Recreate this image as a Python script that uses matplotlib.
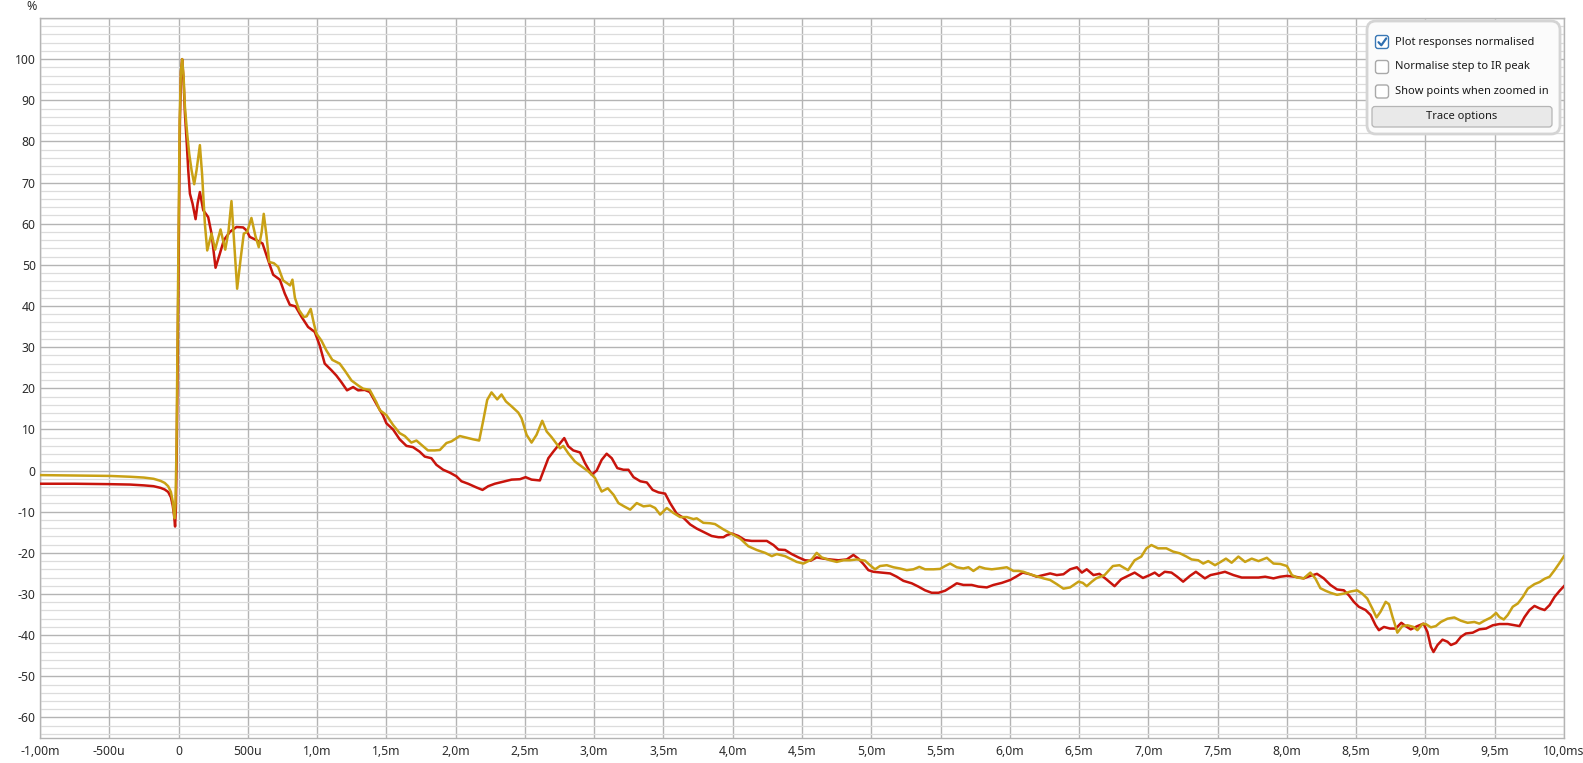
import matplotlib
matplotlib.use("Agg")
import matplotlib.pyplot as plt
from matplotlib.patches import FancyBboxPatch
import numpy as np

plt.rcParams['font.family'] = ['Noto Sans', 'DejaVu Sans']

# ---------------- data ----------------
t_red = [-1.0, -0.75, -0.5, -0.35, -0.25, -0.18, -0.13, -0.1, -0.075, -0.055, -0.042, -0.032, -0.025, -0.019,
         -0.013, -0.006, 0.002, 0.01, 0.018, 0.026, 0.036, 0.046, 0.058, 0.07, 0.082, 0.101, 0.123, 0.138, 0.154,
         0.178, 0.214, 0.238, 0.267, 0.298, 0.327, 0.37, 0.418, 0.466, 0.49, 0.514, 0.563, 0.606, 0.647, 0.683,
         0.731, 0.767, 0.803, 0.844, 0.887, 0.935, 0.983, 1.019, 1.055, 1.103, 1.139, 1.175, 1.216, 1.26, 1.296,
         1.344, 1.38, 1.428, 1.476, 1.5, 1.548, 1.596, 1.645, 1.692, 1.74, 1.777, 1.825, 1.861, 1.91, 1.958,
         2.006, 2.042, 2.09, 2.15, 2.194, 2.235, 2.283, 2.343, 2.404, 2.464, 2.505, 2.548, 2.608, 2.633, 2.669,
         2.705, 2.746, 2.784, 2.813, 2.849, 2.898, 2.934, 2.982, 3.018, 3.054, 3.09, 3.127, 3.167, 3.211, 3.247,
         3.284, 3.333, 3.38, 3.422, 3.464, 3.512, 3.548, 3.596, 3.645, 3.693, 3.74, 3.788, 3.848, 3.897, 3.933,
         3.957, 3.993, 4.041, 4.089, 4.137, 4.197, 4.246, 4.294, 4.33, 4.378, 4.426, 4.474, 4.522, 4.563, 4.606,
         4.654, 4.703, 4.763, 4.823, 4.871, 4.907, 4.943, 4.979, 5.015, 5.075, 5.136, 5.184, 5.232, 5.292, 5.34,
         5.388, 5.436, 5.485, 5.533, 5.581, 5.617, 5.665, 5.725, 5.773, 5.834, 5.882, 5.942, 6.002, 6.05, 6.093,
         6.146, 6.194, 6.243, 6.291, 6.339, 6.387, 6.435, 6.484, 6.52, 6.555, 6.604, 6.647, 6.696, 6.756, 6.804,
         6.853, 6.901, 6.961, 7.01, 7.046, 7.077, 7.118, 7.167, 7.208, 7.251, 7.3, 7.343, 7.384, 7.408, 7.449,
         7.505, 7.553, 7.614, 7.674, 7.734, 7.795, 7.843, 7.903, 7.952, 8.0, 8.06, 8.121, 8.169, 8.217, 8.266,
         8.314, 8.362, 8.411, 8.447, 8.483, 8.519, 8.568, 8.604, 8.64, 8.664, 8.7, 8.744, 8.785, 8.826, 8.857,
         8.894, 8.942, 8.986, 9.014, 9.039, 9.058, 9.087, 9.123, 9.159, 9.184, 9.22, 9.256, 9.292, 9.341, 9.389,
         9.437, 9.486, 9.534, 9.594, 9.643, 9.679, 9.715, 9.751, 9.787, 9.824, 9.86, 9.896, 9.932, 9.969, 10.0]
v_red = [-3.2, -3.2, -3.3, -3.4, -3.6, -3.8, -4.2, -4.6, -5.2, -6.5, -8.5, -11, -13.6, -9,
         5, 30, 60, 85, 97, 100, 95, 86.8, 80.3, 73, 67.3, 64.9, 61.1, 65, 67.7,
         63.3, 61.6, 57.6, 49.3, 52.7, 56, 58, 59.2, 59.1, 58.4, 56.8, 56, 55.2, 51.1, 47.6,
         46.4, 43, 40.3, 39.9, 37.4, 34.9, 33.7, 30.4, 26, 24.4, 23.1, 21.5, 19.5, 20.3, 19.5,
         19.6, 19.1, 16.2, 13.4, 11.5, 10, 7.6, 6, 5.7, 4.6, 3.4, 3, 1.4, 0.2, -0.5,
         -1.4, -2.6, -3.2, -4.1, -4.7, -3.8, -3.2, -2.7, -2.2, -2.1, -1.6, -2.2, -2.4, -0.2, 3,
         4.6, 6.3, 7.9, 5.9, 4.9, 4.4, 1.8, -1, 0, 2.6, 4.1, 3, 0.6, 0.2, 0.2,
         -1.6, -2.6, -2.9, -4.7, -5.3, -5.6, -7.9, -10.5, -11.5, -13.1, -14.1, -14.9, -15.9, -16.2, -16.2,
         -15.7, -15.3, -15.9, -16.9, -17.1, -17.1, -17.1, -18.1, -19.2, -19.3, -20.3, -21.1, -21.8, -21.9, -21.1,
         -21.4, -21.6, -21.8, -21.6, -20.5, -21.4, -22.7, -24.2, -24.6, -24.8, -25, -25.8, -26.8, -27.4, -28.2,
         -29.1, -29.7, -29.7, -29.2, -28.2, -27.4, -27.8, -27.8, -28.2, -28.4, -27.8, -27.3, -26.6, -25.7, -24.8,
         -25.2, -25.8, -25.4, -25, -25.4, -25.2, -24, -23.5, -24.8, -24, -25.4, -25.1, -26.4, -28.1, -26.4,
         -25.6, -24.8, -26.1, -25.4, -24.8, -25.6, -24.6, -24.8, -25.8, -27, -25.6, -24.6, -25.6, -26.2, -25.4,
         -25, -24.6, -25.4, -26, -26, -26, -25.8, -26.2, -25.8, -25.6, -25.8, -26.2, -25.6, -25.1, -26.2,
         -27.8, -28.9, -29.1, -30.3, -31.9, -33.1, -33.9, -35.1, -37.6, -38.8, -38, -38.4, -38.4, -37, -37.8,
         -38.6, -37.8, -37.2, -39.2, -42.8, -44.1, -42.4, -41.1, -41.6, -42.4, -41.9, -40.4, -39.6, -39.4, -38.6,
         -38.4, -37.6, -37.3, -37.3, -37.6, -37.8, -35.6, -33.9, -32.9, -33.5, -33.9, -32.7, -30.7, -29.2, -28.1]

t_gold = [-1.0, -0.75, -0.5, -0.35, -0.25, -0.18, -0.13, -0.1, -0.075, -0.055, -0.042, -0.034, -0.028, -0.022,
          -0.015, -0.008, 0.0, 0.008, 0.017, 0.026, 0.036, 0.046, 0.062, 0.077, 0.094, 0.113, 0.13, 0.154, 0.17,
          0.19, 0.207, 0.238, 0.264, 0.303, 0.337, 0.36, 0.382, 0.4, 0.423, 0.45, 0.471, 0.495, 0.526, 0.555,
          0.579, 0.6, 0.615, 0.635, 0.654, 0.688, 0.719, 0.755, 0.785, 0.805, 0.822, 0.84, 0.87, 0.904, 0.925,
          0.954, 0.975, 0.995, 1.031, 1.067, 1.11, 1.163, 1.2, 1.248, 1.296, 1.332, 1.38, 1.428, 1.452, 1.5,
          1.548, 1.596, 1.633, 1.68, 1.717, 1.765, 1.8, 1.849, 1.886, 1.934, 1.97, 2.03, 2.09, 2.126, 2.17,
          2.2, 2.228, 2.259, 2.3, 2.331, 2.363, 2.404, 2.452, 2.476, 2.512, 2.548, 2.584, 2.625, 2.657, 2.693,
          2.729, 2.753, 2.777, 2.813, 2.861, 2.91, 2.958, 3.006, 3.054, 3.098, 3.14, 3.175, 3.216, 3.26, 3.307,
          3.356, 3.404, 3.44, 3.476, 3.524, 3.572, 3.62, 3.669, 3.717, 3.74, 3.788, 3.836, 3.872, 3.933, 3.993,
          4.053, 4.113, 4.173, 4.234, 4.282, 4.318, 4.378, 4.426, 4.462, 4.51, 4.57, 4.606, 4.642, 4.703, 4.751,
          4.799, 4.847, 4.895, 4.955, 4.991, 5.027, 5.063, 5.112, 5.16, 5.208, 5.256, 5.304, 5.347, 5.388, 5.449,
          5.497, 5.533, 5.569, 5.617, 5.665, 5.701, 5.737, 5.781, 5.822, 5.87, 5.918, 5.978, 6.026, 6.062, 6.098,
          6.146, 6.194, 6.243, 6.291, 6.339, 6.387, 6.435, 6.496, 6.527, 6.555, 6.592, 6.623, 6.684, 6.744, 6.792,
          6.853, 6.901, 6.949, 6.986, 7.022, 7.07, 7.13, 7.179, 7.227, 7.275, 7.312, 7.36, 7.396, 7.432, 7.481,
          7.522, 7.56, 7.601, 7.65, 7.698, 7.746, 7.795, 7.855, 7.903, 7.952, 8.0, 8.036, 8.072, 8.121, 8.169,
          8.205, 8.242, 8.278, 8.314, 8.362, 8.411, 8.459, 8.507, 8.543, 8.58, 8.616, 8.647, 8.676, 8.713, 8.737,
          8.761, 8.785, 8.797, 8.833, 8.87, 8.913, 8.942, 8.978, 9.002, 9.039, 9.075, 9.111, 9.159, 9.208, 9.256,
          9.304, 9.353, 9.389, 9.425, 9.473, 9.51, 9.534, 9.565, 9.594, 9.63, 9.667, 9.703, 9.739, 9.787, 9.824,
          9.86, 9.896, 9.932, 9.969, 10.0]
v_gold = [-1.1, -1.2, -1.3, -1.5, -1.7, -2.0, -2.5, -3.0, -3.8, -5.2, -7.5, -10, -11.6, -8,
          5, 30, 60, 85, 97, 100, 96, 88.4, 82, 77, 73, 69.6, 73, 79.1, 72,
          60, 53.5, 57.6, 53.7, 58.6, 53.7, 58, 65.5, 56, 44.2, 52, 57.6, 58, 61.4, 57,
          54.3, 58, 62.4, 57, 50.7, 50.4, 49.5, 46.2, 45.5, 45, 46.4, 42, 39, 37.3, 37.5,
          39.3, 36, 33.3, 31.6, 29.2, 26.9, 26, 24.3, 21.9, 20.7, 19.9, 19.6, 16.6, 14.7, 13.5,
          11.1, 9.1, 8.4, 6.8, 7.3, 5.9, 4.9, 4.9, 5.0, 6.7, 7.1, 8.4, 7.9, 7.6, 7.3,
          12.3, 17.2, 19.0, 17.3, 18.5, 16.8, 15.6, 14.1, 12.7, 8.7, 6.8, 8.7, 12.1, 9.5, 8.1,
          6.5, 5.4, 6.0, 4.2, 2.2, 1.0, -0.2, -1.8, -5.1, -4.3, -5.9, -7.9, -8.7, -9.5, -7.9,
          -8.7, -8.5, -9.1, -10.7, -9.1, -10.3, -11.3, -11.3, -11.8, -11.6, -12.7, -12.8, -13, -14.3, -15.4,
          -16.5, -18.4, -19.3, -20, -20.8, -20.3, -20.8, -21.6, -22.2, -22.6, -21.6, -20, -21.1, -21.8, -22.2,
          -21.8, -21.8, -21.6, -21.9, -23, -24, -23.2, -23, -23.5, -23.8, -24.2, -24, -23.4, -24, -24,
          -23.9, -23.2, -22.6, -23.5, -23.8, -23.5, -24.4, -23.4, -23.8, -24, -23.8, -23.5, -24.4, -24.4, -24.6,
          -25.2, -25.7, -26.2, -26.6, -27.6, -28.7, -28.4, -27, -27.3, -28.1, -27, -26.2, -25.4, -23.2, -23,
          -24.2, -21.8, -20.9, -18.9, -18.1, -18.9, -18.9, -19.7, -20.1, -20.9, -21.6, -21.8, -22.6, -22, -23,
          -22.2, -21.4, -22.4, -20.9, -22.2, -21.4, -22, -21.2, -22.6, -22.7, -23.2, -25.4, -26, -26.2, -24.8,
          -26.2, -28.6, -29.2, -29.7, -30.2, -29.9, -29.4, -29.1, -29.9, -31.1, -33.5, -35.7, -34.3, -31.9, -32.5,
          -35.4, -38, -39.4, -37.8, -37.6, -38, -38.8, -37.3, -37.3, -38.1, -37.8, -36.8, -36, -35.7, -36.5,
          -37, -36.8, -37.2, -36.5, -35.7, -34.6, -35.6, -36.2, -35.1, -33.1, -32.3, -30.7, -28.7, -27.6, -27.1,
          -26.3, -25.8, -24.2, -22.4, -20.8]

x_ticks = [-1.0, -0.5, 0.0, 0.5, 1.0, 1.5, 2.0, 2.5, 3.0, 3.5, 4.0, 4.5, 5.0, 5.5, 6.0, 6.5, 7.0, 7.5, 8.0,
           8.5, 9.0, 9.5, 10.0]
x_tick_labels = ["-1,00m", "-500u", "0", "500u", "1,0m", "1,5m", "2,0m", "2,5m", "3,0m", "3,5m", "4,0m",
                 "4,5m", "5,0m", "5,5m", "6,0m", "6,5m", "7,0m", "7,5m", "8,0m", "8,5m", "9,0m", "9,5m",
                 "10,0ms"]
y_ticks = [-60, -50, -40, -30, -20, -10, 0, 10, 20, 30, 40, 50, 60, 70, 80, 90, 100]
y_tick_labels = [str(v) for v in y_ticks]

legend_items = ["Plot responses normalised", "Normalise step to IR peak", "Show points when zoomed in"]
legend_checked = [True, False, False]
button_label = "Trace options"

# ---------------- figure ----------------
W, H = 1583, 763
fig = plt.figure(figsize=(W / 100, H / 100), dpi=100)
fig.patch.set_facecolor("white")

ax_l, ax_r, ax_t, ax_b = 40, 1564, 18, 738
ax = fig.add_axes([ax_l / W, 1 - ax_b / H, (ax_r - ax_l) / W, (ax_b - ax_t) / H])
ax.set_xlim(-1.0, 10.0)
ax.set_ylim(-65, 110)

major_c = "#b4b4b4"
minor_c = "#dcdcdc"
ax.set_xticks(x_ticks)
ax.set_xticklabels(x_tick_labels)
ax.set_yticks(y_ticks)
ax.set_yticklabels(y_tick_labels)
ax.set_yticks(np.arange(-64, 111, 2), minor=True)
ax.grid(True, which="minor", axis="y", color=minor_c, lw=0.9)
ax.grid(True, which="major", axis="both", color=major_c, lw=1.0)
ax.axhline(110, color=major_c, lw=1.0)
ax.set_axisbelow(True)
ax.tick_params(which="both", length=0, labelsize=8.8, colors="#2b2b2b")
ax.tick_params(axis="x", pad=5)
ax.tick_params(axis="y", pad=3)
for s in ax.spines.values():
    s.set_color(major_c)
    s.set_linewidth(1.0)

ax.plot(t_red, v_red, color="#c8140c", lw=1.8, solid_joinstyle="round", zorder=3)
ax.plot(t_gold, v_gold, color="#c9a115", lw=1.8, solid_joinstyle="round", zorder=4)

fig.text(32 / W, 1 - 7 / H, "%", fontsize=9, color="#2b2b2b", ha="center", va="center")

# ---------------- legend panel (pixel overlay) ----------------
ov = fig.add_axes([0, 0, 1, 1])
ov.set_xlim(0, W)
ov.set_ylim(H, 0)
ov.axis("off")

ov.add_patch(FancyBboxPatch((1367, 21), 193, 113, boxstyle="round,pad=0,rounding_size=9",
                            fc="#fbfbfb", ec="#d4d4d4", lw=2.0))
row_y = [42, 67, 91.5]
for lbl, chk, yy in zip(legend_items, legend_checked, row_y):
    ec = "#3a78b5" if chk else "#a9a9a9"
    ov.add_patch(FancyBboxPatch((1375.5, yy - 6.5), 13, 13, boxstyle="round,pad=0,rounding_size=2.5",
                                fc="white", ec=ec, lw=1.0))
    if chk:
        ov.plot([1378.5, 1381.3, 1386.2], [yy + 0.2, yy + 3.3, yy - 3.6], color="#2f6fb0", lw=1.6,
                solid_capstyle="round", solid_joinstyle="round")
    ov.text(1395, yy, lbl, fontsize=8.0, color="#1a1a1a", ha="left", va="center")

ov.add_patch(FancyBboxPatch((1372, 106.5), 180, 20.5, boxstyle="round,pad=0,rounding_size=3",
                            fc="#e9e9e9", ec="#b5b5b5", lw=0.9))
ov.text(1462, 117, button_label, fontsize=8.0, color="#1a1a1a", ha="center", va="center")

fig.savefig("out.png", dpi=100, facecolor="white")
